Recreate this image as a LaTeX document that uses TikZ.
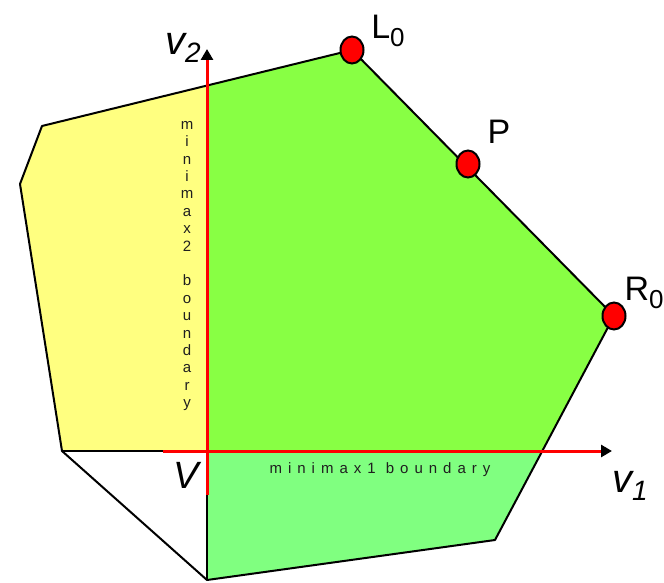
\documentclass[tikz,border=0pt]{standalone}
\usepackage{fontspec}
\setmainfont{Liberation Sans}
\newfontfamily\spacedfont[LetterSpace=40]{Liberation Sans}
\usetikzlibrary{arrows.meta,positioning,shapes.geometric}

\definecolor{regyellow}{HTML}{FFFF80}
\definecolor{reggreen}{HTML}{88FF44}
\definecolor{reglight}{HTML}{80FF80}

% big letter with a big subscript
\newcommand{\sublab}[4]{{\fontsize{#3}{#3}\selectfont #1}\raisebox{-8pt}{\fontsize{#4}{#4}\selectfont #2}}

\begin{document}
\begin{tikzpicture}[x=1pt, y=-1pt,
  edge/.style={draw=black, line width=2pt, line join=round},
  axis/.style={draw=red, line width=3pt, -{Triangle[length=11pt, width=12pt, black]}},
  dot/.style={ellipse, draw=black, fill=red, line width=2pt,
              minimum width=23pt, minimum height=27pt, inner sep=0pt},
  lbl/.style={inner sep=0pt, text=black},
  bnd/.style={inner sep=0pt, text=black!88, font=\fontsize{15}{17.4}\selectfont, align=center}
]
\useasboundingbox (0,0) rectangle (664,583);

% --- polygon corners ----------------------------------------------------
\coordinate (tl) at (42,126);
\coordinate (ll) at (20,184);
\coordinate (bl) at (62,451);
\coordinate (bm) at (207,580);
\coordinate (br) at (495,540);
\coordinate (V)  at (207,451);
\coordinate (topcut) at (207,85.5);
\coordinate (rcut) at (542.3,451);

% --- dots on the boundary ------------------------------------------------
\coordinate (l0) at (352,50);
\coordinate (p)  at (468,164);
\coordinate (r0) at (614,316);

% --- regions ------------------------------------------------------------
\fill[regyellow] (tl) -- (ll) -- (bl) -- (V) -- (topcut) -- cycle;
\fill[reggreen]  (topcut) -- (l0) -- (r0) -- (rcut) -- (V) -- cycle;
\fill[reglight]  (V) -- (rcut) -- (br) -- (bm) -- cycle;

% --- outline ------------------------------------------------------------
\draw[edge] (l0) -- (r0) -- (br) -- (bm) -- (bl) -- (ll) -- (tl) -- cycle;
\draw[edge] (bl) -- (V) -- (bm);

% --- axes ---------------------------------------------------------------
\coordinate (v1tail) at (163,451);
\coordinate (v1tip)  at (612,451);
\coordinate (v2tail) at (207,495);
\coordinate (v2tip)  at (207,49);
\draw[axis] (v1tail) -- (v1tip);
\draw[axis] (v2tail) -- (v2tip);

% --- boundary texts -----------------------------------------------------
\node[bnd] (mm2) at (187,266) {m\\i\\n\\i\\m\\a\\x\\2\\[17.4pt]b\\o\\u\\n\\d\\a\\r\\y};
\node[bnd, font=\spacedfont\fontsize{15}{16}\selectfont] (mm1) at (380,470) {minimax1 boundary};

% --- points -------------------------------------------------------------
\node[dot] (L0) at (l0) {};
\node[dot] (P)  at (p)  {};
\node[dot] (R0) at (r0) {};

\node[lbl] (L0lab) at (388,31)  {\sublab{L}{0}{34}{26}};
\node[lbl] (Plab)  at (499,132) {\fontsize{34}{34}\selectfont P};
\node[lbl] (R0lab) at (644,293) {\sublab{R}{0}{34}{26}};

% --- axis names ---------------------------------------------------------
\node[lbl] (v2lab) at (183,48)  {\itshape\sublab{v}{2}{40}{28}};
\node[lbl] (Vlab)  at (186,475) {\itshape\fontsize{38}{38}\selectfont V};
\node[lbl] (v1lab) at (630,486) {\itshape\sublab{v}{1}{40}{28}};
\end{tikzpicture}
\end{document}
